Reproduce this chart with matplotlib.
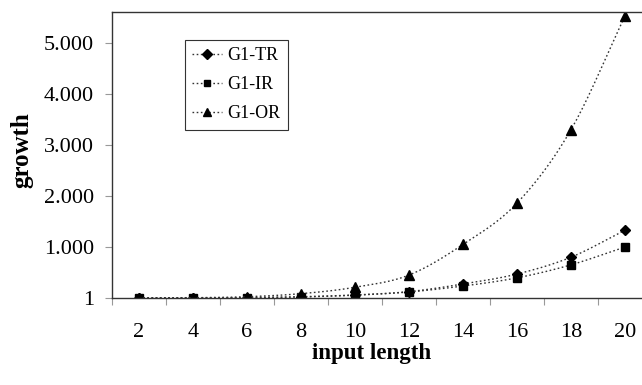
import numpy as np
import matplotlib
matplotlib.use("Agg")
import matplotlib.pyplot as plt
from matplotlib.ticker import FixedLocator, FuncFormatter

# ---- data ----
input_length = [2, 4, 6, 8, 10, 12, 14, 16, 18, 20]
g1_tr = [1, 2, 8, 25, 60, 125, 275, 470, 800, 1330]
g1_ir = [1, 2, 6, 20, 55, 118, 235, 395, 650, 1000]
g1_or = [2, 6, 25, 85, 210, 450, 1050, 1860, 3300, 5530]
series_names = ["G1-TR", "G1-IR", "G1-OR"]
y_ticks = [1, 1000, 2000, 3000, 4000, 5000]

plt.rcParams['font.family'] = ['Liberation Serif', 'DejaVu Serif']

W, H = 642, 385
fig = plt.figure(figsize=(W / 100, H / 100), dpi=100)
ax = fig.add_axes([112 / W, (H - 298) / H, 540 / W, (298 - 12) / H])


def smooth(x, y, n=20):
    """Catmull-Rom style smoothing (like Excel's smoothed line)."""
    x = np.asarray(x, float)
    y = np.asarray(y, float)
    xs, ys = [], []
    for i in range(len(x) - 1):
        p0 = (x[i - 1], y[i - 1]) if i > 0 else (2 * x[i] - x[i + 1], 2 * y[i] - y[i + 1])
        p1 = (x[i], y[i])
        p2 = (x[i + 1], y[i + 1])
        p3 = (x[i + 2], y[i + 2]) if i + 2 < len(x) else (2 * x[i + 1] - x[i], 2 * y[i + 1] - y[i])
        t = np.linspace(0, 1, n, endpoint=(i == len(x) - 2))
        for k in range(2):
            a, b, c, d = p0[k], p1[k], p2[k], p3[k]
            v = 0.5 * ((2 * b) + (-a + c) * t + (2 * a - 5 * b + 4 * c - d) * t ** 2
                       + (-a + 3 * b - 3 * c + d) * t ** 3)
            (xs if k == 0 else ys).append(v)
    return np.concatenate(xs), np.concatenate(ys)


markers = ['D', 's', '^']
msizes = [5.5, 5.5, 6.5]
ls = (0, (1.2, 1.8))
lc = '#333333'
for vals, name, m, ms in zip([g1_tr, g1_ir, g1_or], series_names, markers, msizes):
    sx, sy = smooth(input_length, vals)
    ax.plot(sx, sy, linestyle=ls, color=lc, linewidth=1.0)
    ax.plot(input_length, vals, linestyle='none', marker=m, markersize=ms,
            color='black')
    # legend proxy
    ax.plot([], [], linestyle=ls, color=lc, linewidth=1.0, marker=m,
            markersize=ms * 0.85, markerfacecolor='black', markeredgecolor='black',
            label=name)

ax.set_xlim(1, 21)
ax.set_ylim(0, 5608)

# x axis: tick marks between categories, labels at centers
ax.xaxis.set_major_locator(FixedLocator(np.arange(1, 22, 2)))
ax.xaxis.set_major_formatter(FuncFormatter(lambda v, p: ''))
ax.xaxis.set_minor_locator(FixedLocator(input_length))
ax.xaxis.set_minor_formatter(FuncFormatter(lambda v, p: f"{int(v)}"))
ax.tick_params(axis='x', which='major', direction='out', length=5, width=0.8,
               color='#999999')
ax.tick_params(axis='x', which='minor', length=0, labelsize=16, pad=18)

ax.yaxis.set_major_locator(FixedLocator(y_ticks))
ax.yaxis.set_major_formatter(FuncFormatter(
    lambda v, p: f"{int(round(v)):,}".replace(",", ".")))
ax.tick_params(axis='y', direction='out', length=5, width=0.8, color='#999999',
               labelsize=16, pad=8)

for s in ['left', 'bottom', 'top', 'right']:
    ax.spines[s].set_color('#333333')
    ax.spines[s].set_linewidth(1.0)

fig.text(372 / W, 1 - 353 / H, "input length", ha='center', va='center',
         fontsize=16.5, fontweight='bold')
fig.text(22 / W, 1 - 150 / H, "growth", ha='center', va='center',
         fontsize=18, fontweight='bold', rotation=90)

leg = ax.legend(loc='upper left', bbox_to_anchor=(185 / W, 1 - 40 / H),
                bbox_transform=fig.transFigure, borderaxespad=0,
                fontsize=13, frameon=True, fancybox=False, edgecolor='#333333',
                framealpha=1, handlelength=1.66, handletextpad=0.3,
                labelspacing=0.67, borderpad=0.4)
leg.get_frame().set_linewidth(0.8)

fig.savefig("out.png", dpi=100)
